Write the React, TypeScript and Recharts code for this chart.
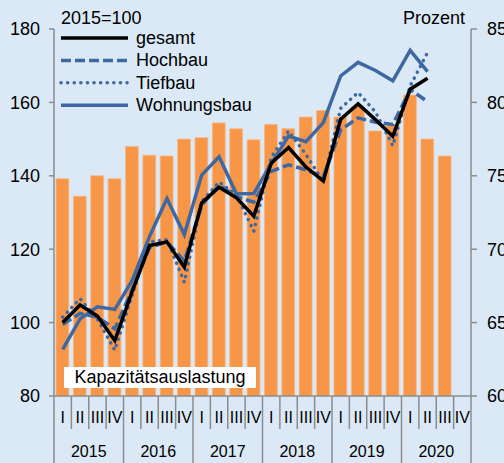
import React from "react";
import { ComposedChart, Bar, Line, XAxis, YAxis } from "recharts";

// Quarters 2015 I .. 2020 IV
const years = ["2015", "2016", "2017", "2018", "2019", "2020"];
const quarters = ["I", "II", "III", "IV"];

// Kapazitätsauslastung in Prozent (right axis)
const auslastung = [
  74.8, 73.6, 75.0, 74.8,
  77.0, 76.4, 76.35, 77.5,
  77.6, 78.6, 78.2, 77.45,
  78.5, 78.2, 79.0, 79.45,
  79.0, 79.7, 78.05, 78.5,
  80.5, 77.5, 76.35, null,
];

// Indices, 2015=100 (left axis)
const gesamt = [
  100, 104.8, 101.8, 95.1,
  108.5, 121, 122, 115.1,
  132.6, 136.9, 134, 129,
  143.4, 147.7, 142.4, 138.6,
  155.4, 159.6, 155.3, 150.8,
  163.6, 166.6, null, null,
];
const hochbau = [
  99.5, 102.5, 101.5, 98.3,
  109, 120.5, 122, 116.8,
  132, 137.5, 134.3, 132.8,
  141.2, 143, 141.6, 139.8,
  152.5, 155.8, 154.6, 154,
  163.5, 160.2, null, null,
];
const tiefbau = [
  101.5, 106.5, 101, 92.5,
  107.5, 122, 122.6, 111,
  133, 138.3, 134.8, 124.9,
  145, 152.2, 145.8, 138.4,
  158.4, 162.7, 157.4, 148.2,
  164.5, 173.6, null, null,
];
const wohnungsbau = [
  92.7, 101, 104.3, 103.6,
  111.5, 123.5, 133.8, 124,
  140.2, 145.2, 135.1, 135.2,
  143.3, 150.8, 149.3, 154.5,
  167.2, 170.9, 168.7, 165.9,
  174.2, 168.4, null, null,
];

const W = 504;
const H = 463;
const LEFT_W = 54;
const RIGHT_W = 33;
const TOP = 29;
const XAXIS_H = 67;
const BAND = (W - LEFT_W - RIGHT_W) / (years.length * quarters.length);

const BLUE = "#3d68a1";
const GREY = "#8c8c8c";
const FONT = "'Liberation Sans', Arial, sans-serif";

const data = years.flatMap((y, yi) =>
  quarters.map((q, qi) => {
    const i = yi * 4 + qi;
    return {
      key: `${y}-${q}`,
      year: y,
      quarter: q,
      qi,
      auslastung: auslastung[i],
      gesamt: gesamt[i],
      hochbau: hochbau[i],
      tiefbau: tiefbau[i],
      wohnungsbau: wohnungsbau[i],
    };
  })
);

// quarter label + separators, year label below
const QuarterTick = (props: any) => {
  const { x, y, payload, index } = props;
  const row = data[index] || data[payload.index];
  if (!row) return null;
  const left = x - BAND / 2;
  const isLast = index === data.length - 1;
  return (
    <g>
      <line
        x1={left}
        x2={left}
        y1={y}
        y2={y + (row.qi === 0 ? XAXIS_H : 33)}
        stroke={GREY}
        strokeWidth={1.5}
      />
      {isLast && (
        <line x1={x + BAND / 2} x2={x + BAND / 2} y1={y} y2={y + XAXIS_H} stroke={GREY} strokeWidth={1.5} />
      )}
      <text x={x} y={y + 21} textAnchor="middle" dominantBaseline="central" fontSize={16} fill="#000" fontFamily={FONT}>
        {row.quarter}
      </text>
      {row.qi === 1 && (
        <text x={x + BAND / 2} y={y + 55} textAnchor="middle" dominantBaseline="central" fontSize={16} fill="#000" fontFamily={FONT}>
          {row.year}
        </text>
      )}
    </g>
  );
};

const legendItems = [
  { label: "gesamt", color: "#000", dash: undefined, cap: "butt" },
  { label: "Hochbau", color: BLUE, dash: "10 4", cap: "butt" },
  { label: "Tiefbau", color: BLUE, dash: "0.1 6.5", cap: "round" },
  { label: "Wohnungsbau", color: BLUE, dash: undefined, cap: "butt" },
];

export default function App() {
  return (
    <div
      style={{
        position: "absolute",
        left: 0,
        top: 0,
        width: W,
        height: H,
        overflow: "hidden",
        background: "#dbe9f6",
        fontFamily: FONT,
      }}
    >
      <ComposedChart
        width={W}
        height={H}
        data={data}
        margin={{ top: TOP, right: 0, left: 0, bottom: 0 }}
      >
        <XAxis
          dataKey="key"
          xAxisId="x"
          height={XAXIS_H}
          interval={0}
          tickSize={0}
          tickMargin={0}
          tickLine={false}
          axisLine={{ stroke: GREY, strokeWidth: 1.5 }}
          tick={<QuarterTick />}
        />
        <YAxis
          yAxisId="l"
          width={LEFT_W}
          domain={[80, 180]}
          ticks={[80, 100, 120, 140, 160, 180]}
          tickSize={5}
          tickMargin={9}
          axisLine={{ stroke: GREY, strokeWidth: 1.5 }}
          tickLine={{ stroke: GREY, strokeWidth: 1.5 }}
          tick={{ fill: "#000", fontSize: 18, fontFamily: FONT }}
        />
        <YAxis
          yAxisId="r"
          orientation="right"
          width={RIGHT_W}
          domain={[60, 85]}
          ticks={[60, 65, 70, 75, 80, 85]}
          tickSize={6}
          tickMargin={10}
          axisLine={{ stroke: GREY, strokeWidth: 1.5 }}
          tickLine={{ stroke: GREY, strokeWidth: 1.5 }}
          tick={{ fill: "#000", fontSize: 18, fontFamily: FONT, textAnchor: "start" }}
        />
        <Bar
          dataKey="auslastung"
          xAxisId="x"
          yAxisId="r"
          fill="#f79646"
          stroke="#f9b685"
          strokeWidth={0.8}
          barSize={12.8}
          isAnimationActive={false}
        />
        <Line
          dataKey="wohnungsbau"
          xAxisId="x"
          yAxisId="l"
          stroke={BLUE}
          strokeWidth={3.5}
          dot={false}
          type="linear"
          isAnimationActive={false}
        />
        <Line
          dataKey="hochbau"
          xAxisId="x"
          yAxisId="l"
          stroke={BLUE}
          strokeWidth={3.5}
          strokeDasharray="10 4"
          dot={false}
          type="linear"
          isAnimationActive={false}
        />
        <Line
          dataKey="tiefbau"
          xAxisId="x"
          yAxisId="l"
          stroke={BLUE}
          strokeWidth={3.5}
          strokeDasharray="0.1 6.5"
          strokeLinecap="round"
          dot={false}
          type="linear"
          isAnimationActive={false}
        />
        <Line
          dataKey="gesamt"
          xAxisId="x"
          yAxisId="l"
          stroke="#000"
          strokeWidth={3.5}
          dot={false}
          type="linear"
          isAnimationActive={false}
        />
      </ComposedChart>

      {/* axis titles */}
      <div style={{ position: "absolute", left: 61, top: 7, fontSize: 18, lineHeight: "22px", color: "#000" }}>
        2015=100
      </div>
      <div style={{ position: "absolute", left: 403, top: 7, fontSize: 18, lineHeight: "22px", color: "#000" }}>
        Prozent
      </div>

      {/* legend */}
      <svg style={{ position: "absolute", left: 0, top: 0 }} width={260} height={120}>
        {legendItems.map((it, i) => {
          const cy = 38 + i * 22.4;
          return (
            <g key={it.label}>
              <line
                x1={61}
                x2={128}
                y1={cy}
                y2={cy}
                stroke={it.color}
                strokeWidth={3.5}
                strokeDasharray={it.dash}
                strokeLinecap={it.cap as any}
              />
              <text x={136} y={cy} dominantBaseline="central" fontSize={18} fontFamily={FONT} fill="#000">
                {it.label}
              </text>
            </g>
          );
        })}
      </svg>

      {/* bar series label */}
      <div
        style={{
          position: "absolute",
          left: 64,
          top: 367,
          width: 192,
          height: 21,
          background: "#fff",
          fontSize: 18,
          lineHeight: "21px",
          textAlign: "center",
          color: "#000",
        }}
      >
        Kapazitätsauslastung
      </div>
    </div>
  );
}
